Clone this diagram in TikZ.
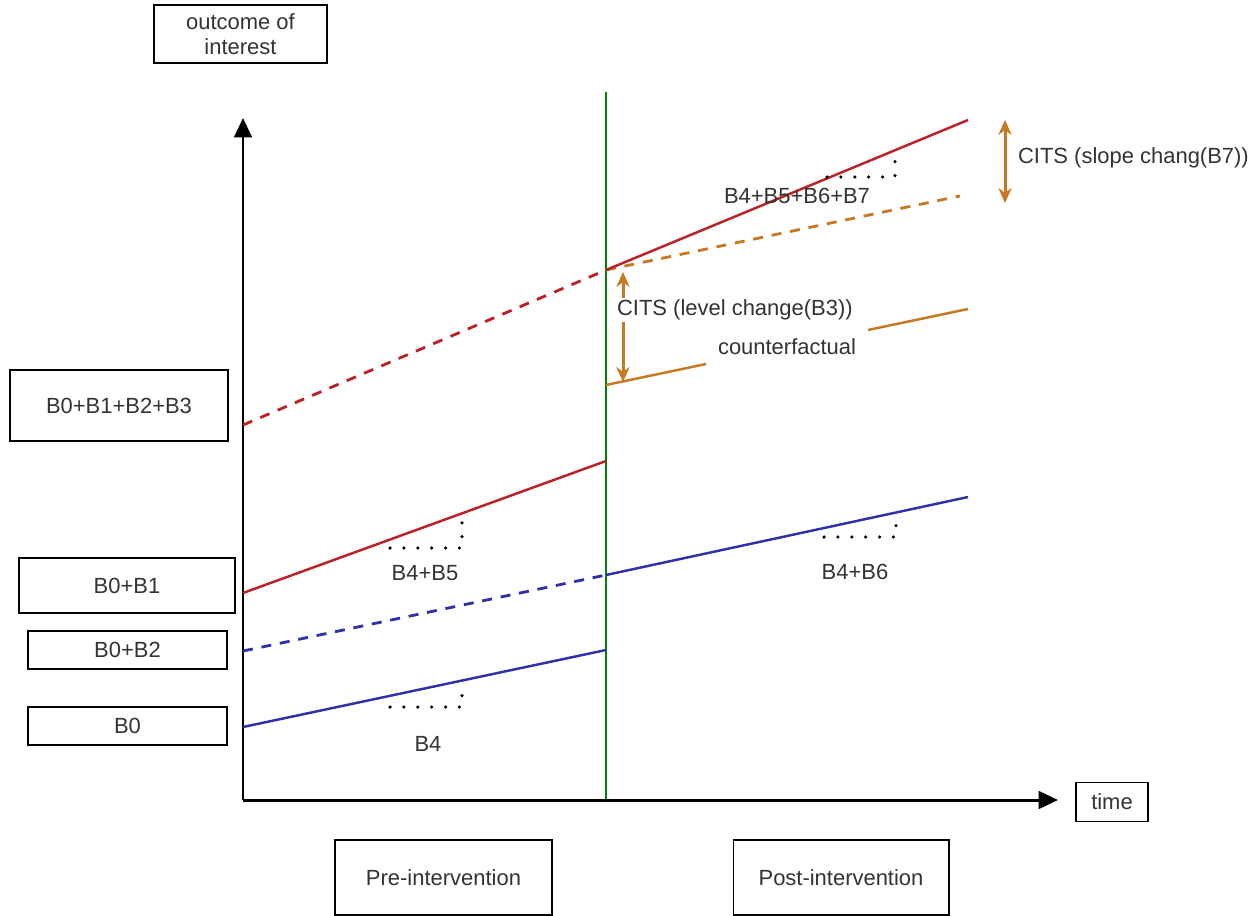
\documentclass[tikz,border=0pt]{standalone}
\usepackage{fontspec}
\setmainfont{Liberation Sans}
\usetikzlibrary{arrows.meta}
\definecolor{treated}{RGB}{190,32,40}
\definecolor{control}{RGB}{48,48,170}
\definecolor{cfactual}{RGB}{200,120,30}
\definecolor{cutline}{RGB}{0,128,0}
\definecolor{labelgray}{RGB}{51,51,51}
\tikzset{
	every node/.style={font=\fontsize{12.5}{14.5}\selectfont, text=labelgray},
	labelbox/.style={draw, line width=0.6pt, inner sep=0pt, align=center},
	trend/.style={line width=1.4pt},
	gapline/.style={line width=1.6pt, dash pattern=on 5.7pt off 5pt},
	slopedots/.style={line width=2pt, line cap=round, dash pattern=on 0pt off 7.9pt},
	change/.style={line width=1.7pt, color=cfactual, {Stealth[length=8.5pt,width=7.5pt]}-{Stealth[length=8.5pt,width=7.5pt]}}
}
\begin{document}
\begin{tikzpicture}[x=0.02cm, y=-0.02cm]
	\useasboundingbox (0,0) rectangle (1258,916);
	% axes and intervention time
	\coordinate (origin) at (243,800);
	\coordinate (ytip) at (243,118);
	\coordinate (xtip) at (1058,800);
	\coordinate (cuttop) at (606,92);
	\coordinate (cutbot) at (606,800);
	\draw[cutline, line width=0.6pt] (cuttop) -- (cutbot);
	\draw[line width=1.7pt, -{Triangle[length=11pt, width=10pt]}] (origin) -- (ytip);
	\draw[line width=1.7pt, -{Triangle[length=11pt, width=10pt]}] (origin) -- (xtip);
	% boxes
	\node[labelbox, minimum width=3.46cm, minimum height=1.16cm] (interest) at (240.5,34) {outcome of\\interest};
	\node[labelbox, minimum width=4.36cm, minimum height=1.42cm] (b0123) at (119,405.5) {B0+B1+B2+B3};
	\node[labelbox, minimum width=4.32cm, minimum height=1.10cm] (b01) at (127,585.5) {B0+B1};
	\node[labelbox, minimum width=3.98cm, minimum height=0.76cm] (b02) at (127.5,650) {B0+B2};
	\node[labelbox, minimum width=3.98cm, minimum height=0.76cm] (b0) at (127.5,726) {B0};
	\node[labelbox, minimum width=1.44cm, minimum height=0.78cm] (time) at (1112,802) {time};
	\node[labelbox, minimum width=4.34cm, minimum height=1.50cm] (pre) at (443.5,877.5) {Pre-intervention};
	\node[labelbox, minimum width=4.32cm, minimum height=1.50cm] (post) at (841,877.5) {Post-intervention};
	% treated series
	\coordinate (t0) at (243,593);
	\coordinate (t1) at (606,461);
	\coordinate (te0) at (243,425);
	\coordinate (te1) at (606,270);
	\coordinate (t2) at (968,120);
	\draw[trend, treated] (t0) -- (t1);
	\draw[gapline, treated] (te0) -- (te1);
	\draw[gapline, cfactual] (te1) -- (960,196);
	\draw[trend, treated] (te1) -- (t2);
	% counterfactual
	\coordinate (cf0) at (606,385);
	\coordinate (cf1) at (968,309);
	\draw[trend, cfactual] (cf0) -- (cf1) node[midway, fill=white, inner xsep=0.24cm, inner ysep=0.3cm] (cflabel) {counterfactual};
	% control series
	\coordinate (c0) at (243,727);
	\coordinate (c1) at (606,650);
	\coordinate (ce0) at (243,651);
	\coordinate (ce1) at (606,575);
	\coordinate (c2) at (968,497);
	\draw[trend, control] (c0) -- (c1);
	\draw[gapline, control] (ce0) -- (ce1);
	\draw[trend, control] (ce1) -- (c2);
	% slopes
	\draw[slopedots] (390,548) -- (462,548) -- (462,518);
	\draw[slopedots] (390,707) -- (462,707) -- (462,689);
	\draw[slopedots] (824,537) -- (896,537) -- (896,520);
	\draw[slopedots] (827,177) -- (895,177) -- (895,160);
	\node (s45) at (425,573) {B4+B5};
	\node (s4) at (428,744) {B4};
	\node (s46) at (855,572) {B4+B6};
	\node (s4567) at (797,196) {B4+B5+B6+B7};
	% CITS effects
	\coordinate (lv0) at (623,272);
	\coordinate (lv1) at (623,382);
	\coordinate (sl0) at (1005,120);
	\coordinate (sl1) at (1005,203);
	\draw[change] (lv0) -- (lv1);
	\draw[change] (sl0) -- (sl1);
	\node[anchor=west, fill=white, inner sep=1pt] (level) at (615,310) {CITS (level change(B3))};
	\node[anchor=west, inner sep=1pt] (slope) at (1016,158) {CITS (slope chang(B7))};
\end{tikzpicture}
\end{document}
